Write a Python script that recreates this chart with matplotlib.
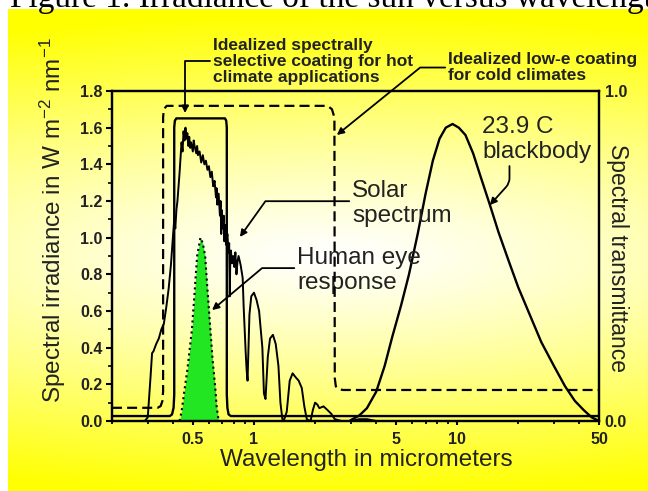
import numpy as np
import matplotlib
matplotlib.use('Agg')
import matplotlib.pyplot as plt

plt.rcParams['font.family'] = 'Liberation Sans'
plt.rcParams['mathtext.fontset'] = 'custom'
plt.rcParams['mathtext.rm'] = 'Liberation Sans'
plt.rcParams['mathtext.it'] = 'Liberation Sans:italic'
plt.rcParams['mathtext.bf'] = 'Liberation Sans:bold'

# solar spectrum (W m-2 nm-1)
solar_wl = [0.29, 0.30, 0.31, 0.315, 0.32, 0.33, 0.34, 0.35, 0.36, 0.37, 0.38, 0.39,
            0.40, 0.405, 0.41, 0.415, 0.42, 0.43, 0.44, 0.445, 0.45, 0.455, 0.46, 0.465,
            0.47, 0.475, 0.48, 0.485, 0.49, 0.50, 0.505, 0.51, 0.52, 0.525, 0.53, 0.54,
            0.55, 0.56, 0.57, 0.58, 0.59, 0.60, 0.61, 0.62, 0.63, 0.64, 0.65, 0.655,
            0.66, 0.67, 0.68, 0.685, 0.69, 0.695, 0.70, 0.71, 0.715, 0.72, 0.73, 0.74,
            0.75, 0.755, 0.76, 0.765, 0.77, 0.78, 0.79, 0.80, 0.81, 0.82, 0.83, 0.84,
            0.86, 0.88, 0.89, 0.90, 0.91, 0.92, 0.93, 0.94, 0.95, 0.97, 1.00,
            1.03, 1.06, 1.10, 1.12, 1.14, 1.17, 1.20, 1.24, 1.28, 1.32, 1.35, 1.38,
            1.40, 1.45, 1.50, 1.55, 1.60, 1.66, 1.72, 1.77, 1.82, 1.90, 1.95, 2.00,
            2.05, 2.10, 2.20, 2.30, 2.40, 2.50, 2.70, 3.0, 3.3, 3.6, 4.0]
solar_irr = [0.0, 0.02, 0.25, 0.37, 0.38, 0.42, 0.45, 0.50, 0.53, 0.62, 0.72, 0.85,
             1.02, 1.10, 1.05, 1.15, 1.20, 1.35, 1.52, 1.47, 1.58, 1.53, 1.60, 1.54,
             1.57, 1.50, 1.55, 1.49, 1.52, 1.47, 1.53, 1.50, 1.46, 1.50, 1.45, 1.47,
             1.41, 1.45, 1.40, 1.42, 1.37, 1.39, 1.33, 1.36, 1.28, 1.31, 1.22, 1.27,
             1.18, 1.24, 1.12, 1.20, 1.02, 1.15, 1.05, 1.12, 0.98, 1.07, 0.96, 1.02,
             0.92, 0.97, 0.68, 0.90, 0.93, 0.86, 0.90, 0.84, 0.92, 0.80, 0.87, 0.90,
             0.85, 0.78, 0.62, 0.50, 0.38, 0.28, 0.22, 0.40, 0.58, 0.68, 0.70,
             0.66, 0.60, 0.40, 0.15, 0.12, 0.35, 0.45, 0.47, 0.42, 0.30, 0.10, 0.01,
             0.0, 0.05, 0.22, 0.26, 0.24, 0.22, 0.18, 0.08, 0.01, 0.0, 0.06, 0.10,
             0.09, 0.07, 0.08, 0.06, 0.04, 0.01, 0.0, 0.0, 0.01, 0.01, 0.0]

# human eye response (scaled to left axis)
eye_wl = [0.43, 0.44, 0.455, 0.47, 0.495, 0.51, 0.525, 0.545, 0.56, 0.575, 0.59,
          0.61, 0.625, 0.645, 0.655, 0.67]
eye_resp = [0.0, 0.05, 0.17, 0.28, 0.50, 0.70, 0.90, 1.0, 0.97, 0.90, 0.72,
            0.50, 0.34, 0.18, 0.08, 0.0]

# 23.9 C blackbody (scaled to left axis)
bb_wl = [3.0, 3.3, 3.6, 4.0, 4.4, 4.8, 5.3, 5.8, 6.4, 7.0, 7.6, 8.2, 8.8, 9.5,
         10.2, 11.0, 12.0, 13.0, 14.5, 16.0, 18.0, 20.0, 23.0, 26.0, 30.0, 34.0,
         38.0, 42.0, 46.0, 50.0]
bb_irr = [0.005, 0.03, 0.07, 0.16, 0.30, 0.46, 0.63, 0.80, 1.02, 1.24, 1.42, 1.54,
          1.60, 1.62, 1.60, 1.56, 1.46, 1.34, 1.18, 1.03, 0.87, 0.73, 0.57, 0.43,
          0.30, 0.19, 0.11, 0.06, 0.02, 0.0]

# idealized coatings, spectral transmittance (right axis)
hot_wl = [0.2, 0.385, 0.395, 0.402, 0.405, 0.405, 0.408, 0.415, 0.72, 0.73, 0.735,
          0.735, 0.74, 0.75, 0.77, 50]
hot_tr = [0.015, 0.015, 0.02, 0.04, 0.08, 0.89, 0.91, 0.917, 0.917, 0.91, 0.89,
          0.08, 0.04, 0.02, 0.015, 0.015]
cold_wl = [0.2, 0.335, 0.347, 0.354, 0.357, 0.357, 0.36, 0.372, 2.3, 2.42, 2.49,
           2.5, 2.53, 2.62, 2.75, 50]
cold_tr = [0.04, 0.04, 0.045, 0.06, 0.09, 0.92, 0.945, 0.955, 0.955, 0.945, 0.92,
           0.13, 0.105, 0.096, 0.094, 0.094]

x_ticks = [0.5, 1, 5, 10, 50]
x_ticklabels = ['0.5', '1', '5', '10', '50']
y_ticks = [0.0, 0.2, 0.4, 0.6, 0.8, 1.0, 1.2, 1.4, 1.6, 1.8]
y_ticklabels = ['0.0', '0.2', '0.4', '0.6', '0.8', '1.0', '1.2', '1.4', '1.6', '1.8']
y2_ticks = [0.0, 1.0]
y2_ticklabels = ['0.0', '1.0']

fig = plt.figure(figsize=(6.48, 4.91), dpi=100)

# yellow panel with a white glow in the middle
bg = fig.add_axes([8 / 648, 0, 640 / 648, 482 / 491], zorder=-10)
W, H = 640, 482
xx, yy = np.meshgrid(np.arange(W), np.arange(H))
d = np.sqrt(((xx + 8 - 330) / 900.0) ** 2 + ((yy + 9 - 255) / 240.0) ** 2)
t = np.clip(d, 0, 1) ** 1.2
img = np.dstack([np.ones_like(t), np.ones_like(t), 1 - t])
bg.imshow(img, aspect='auto', interpolation='bilinear')
bg.axis('off')

fig.text(10 / 648, 1 - 7 / 491, 'Figure 1. Irradiance of the sun versus wavelength',
         family='Liberation Serif', size=24, ha='left', va='baseline')

ax = fig.add_axes([112 / 648, 1 - 421 / 491, 487 / 648, 330 / 491])
ax.patch.set_alpha(0)
ax.set_xscale('log')
ax.set_xlim(0.2, 50)
ax.set_ylim(0, 1.8)

# eye response, solar spectrum, blackbody
ax.fill_between(eye_wl, eye_resp, color='#22e622', lw=0)
ax.plot(eye_wl, eye_resp, color='k', ls=':', lw=1.5)
ax.plot(solar_wl, solar_irr, color='k', lw=1.4)
ax.plot(bb_wl, bb_irr, color='k', lw=1.7)

ax2 = ax.twinx()
ax2.set_ylim(0, 1)
ax2.plot(hot_wl, hot_tr, color='k', lw=1.7)
ax2.plot(cold_wl, cold_tr, color='k', lw=1.6, ls=(0, (4.5, 2.3)))

# ticks
ax.set_xticks(x_ticks)
ax.set_xticklabels(x_ticklabels)
ax.set_yticks(y_ticks)
ax.set_yticklabels(y_ticklabels)
ax.set_yticks(np.arange(0.1, 1.8, 0.2), minor=True)
ax.tick_params(axis='y', which='major', direction='out', length=4, width=1.5,
               labelsize=11.5, pad=3)
ax.tick_params(axis='y', which='minor', direction='out', length=3, width=1.2)
ax.tick_params(axis='x', which='major', direction='out', length=3, width=1.5,
               labelsize=11.5, pad=5)
ax.tick_params(axis='x', which='minor', direction='out', length=2.5, width=1.3)
ax.xaxis.set_minor_formatter(matplotlib.ticker.NullFormatter())
for lab in ax.get_xticklabels() + ax.get_yticklabels():
    lab.set_fontweight('bold')
    lab.set_color('#222222')

ax2.set_yticks(y2_ticks)
ax2.set_yticklabels(y2_ticklabels)
ax2.tick_params(axis='y', length=0, labelsize=11.5, pad=4)
for lab in ax2.get_yticklabels():
    lab.set_fontweight('bold')
    lab.set_color('#222222')

for a in (ax, ax2):
    for s in a.spines.values():
        s.set_linewidth(1.6)

ax.set_xlabel('Wavelength in micrometers', fontsize=17.5, va='center', color='#222222')
ax.xaxis.set_label_coords(0.5216, -0.118)
ax.set_ylabel(r'Spectral irradiance in W m$^{\mathregular{-2}}$ nm$^{\mathregular{-1}}$',
              fontsize=17.5, va='center', color='#222222')
ax.yaxis.set_label_coords(-0.121, 0.61)
ax2.set_ylabel('Spectral transmittance', fontsize=16.5, rotation=270, va='center',
               color='#222222')
ax2.yaxis.set_label_coords(1.039, 0.494)

# callouts
arrow = dict(arrowstyle='-|>', color='k', lw=1.3, shrinkA=0, shrinkB=0,
             mutation_scale=10)

ax.annotate('Solar\nspectrum', xy=(0.853, 1.004), xytext=(3.04, 1.186),
            fontsize=17.5, ha='left', va='center', color='#222222',
            arrowprops=dict(arrow, relpos=(0, 0.55),
                            connectionstyle='angle,angleA=0,angleB=54.5,rad=0'))
ax.annotate('Human eye\nresponse', xy=(0.622, 0.605), xytext=(1.63, 0.821),
            fontsize=17.5, ha='left', va='center', color='#222222',
            arrowprops=dict(arrow, relpos=(0, 0.55),
                            connectionstyle='angle,angleA=0,angleB=40,rad=0'))
ax.annotate('23.9 C\nblackbody', xy=(14.5, 1.178), xytext=(13.3, 1.535),
            fontsize=17.5, ha='left', va='center', color='#222222',
            arrowprops=dict(arrow, relpos=(0.25, 0),
                            connectionstyle='angle,angleA=90,angleB=48,rad=5'))
ax.annotate('Idealized spectrally\nselective coating for hot\nclimate applications',
            xy=(0.458, 1.68), xytext=(0.629, 1.961), fontsize=12.5,
            fontweight='bold', ha='left', va='center', color='#222222',
            linespacing=1.05, annotation_clip=False,
            arrowprops=dict(arrow, relpos=(0, 0.5),
                            connectionstyle='angle,angleA=0,angleB=90,rad=0'))
ax.annotate('Idealized low-e coating\nfor cold climates',
            xy=(2.56, 1.56), xytext=(9.02, 1.928), fontsize=12.5,
            fontweight='bold', ha='left', va='center', color='#222222',
            linespacing=1.05, annotation_clip=False,
            arrowprops=dict(arrow, relpos=(0, 0.5),
                            connectionstyle='angle,angleA=0,angleB=39,rad=0'))

fig.savefig('out.png', dpi=100)
